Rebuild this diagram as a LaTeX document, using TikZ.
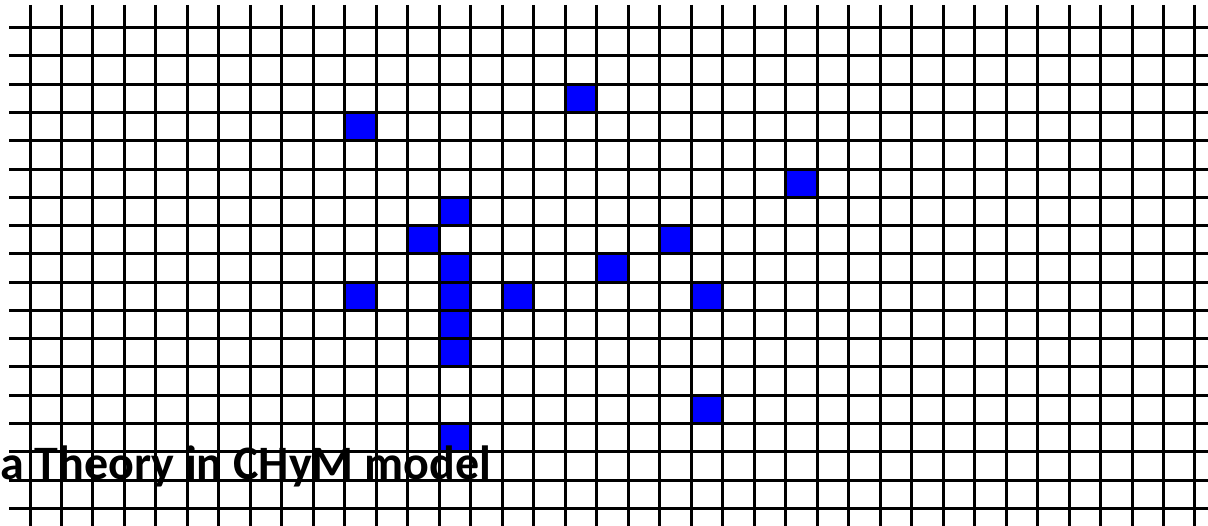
\documentclass[tikz,border=0pt]{standalone}
\usepackage{fontspec}
\setmainfont{Carlito}
\begin{document}
\begin{tikzpicture}[x=1pt,y=-1pt,
  gridline/.style={black,line width=3pt},
  cell/.style={fill={rgb,255:red,0;green,0;blue,255}},
  title/.style={font=\bfseries\fontsize{48}{50}\selectfont,inner sep=0pt,anchor=base west}]
\useasboundingbox (0,0) rectangle (1208,526);
\fill[white] (0,0) rectangle (1208,526);
\def\sx{31.486}
\def\sy{28.27}
% blue cells (column, row)
\foreach \c/\r in {17/2,10/3,24/5,13/6,12/7,20/7,13/8,18/8,10/9,13/9,15/9,21/9,13/10,13/11,21/13,13/14}
  \fill[cell] ({30+\c*\sx},{27.7+\r*\sy}) rectangle ({30+(\c+1)*\sx},{27.7+(\r+1)*\sy});
% vertical lines
\foreach \i in {0,...,37}
  \draw[gridline] ({30+\i*\sx},5) -- ({30+\i*\sx},526);
% horizontal lines
\foreach \j in {0,...,17}
  \draw[gridline] (9,{27.7+\j*\sy}) -- (1208,{27.7+\j*\sy});
\node[title] (t) at (0,479) {a Theory in CHyM model};
\end{tikzpicture}
\end{document}
